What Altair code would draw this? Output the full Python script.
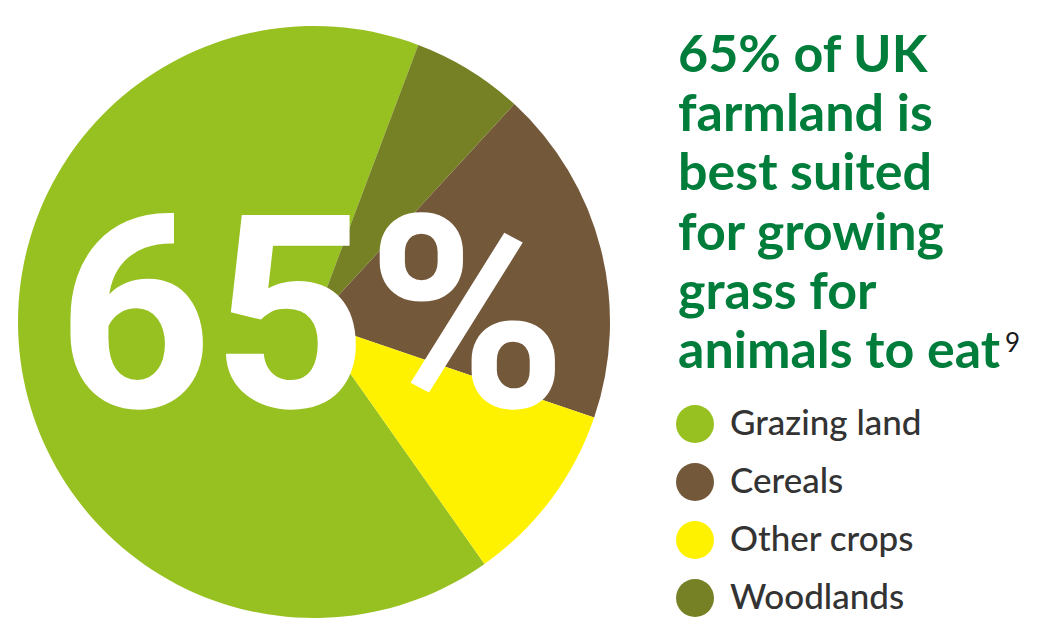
import altair as alt
import pandas as pd

categories = ["Grazing land", "Cereals", "Other crops", "Woodlands"]
shares = [65.5, 18.4, 10.0, 6.1]
pie_order = [3, 1, 2, 0]
colors = ["#97C021", "#74583A", "#FFF200", "#768024"]

title_lines = ["65% of UK", "farmland is", "best suited", "for growing", "grass for", "animals to eat"]
big_label = "65%"
footnote = "9"

df = pd.DataFrame({"category": categories, "share": shares, "order": pie_order})

W, H = 1035, 612
start = 0.36
TWO_PI = 6.283185307

pie = alt.Chart(df).mark_arc(radius=296, strokeWidth=0).encode(
    theta=alt.Theta("share:Q", stack=True, scale=alt.Scale(range=[start, start + TWO_PI])),
    color=alt.Color(
        "category:N",
        scale=alt.Scale(domain=categories, range=colors),
        sort=categories,
        legend=alt.Legend(
            title=None,
            orient="none",
            legendX=668,
            legendY=397,
            padding=0,
            symbolType="circle",
            symbolSize=1444,
            symbolStrokeWidth=0,
            symbolOpacity=1,
            labelFont="Lato",
            labelFontSize=35,
            labelFontWeight=500,
            labelColor="#333333",
            labelOffset=16,
            rowPadding=20,
            labelLimit=400,
        ),
    ),
    order=alt.Order("order:Q"),
    x=alt.value(306),
    y=alt.value(314),
)

big = alt.Chart(pd.DataFrame({"t": [big_label]})).mark_text(
    font="Roboto", fontWeight="bold", fontSize=270, color="white",
    align="center", baseline="alphabetic",
).encode(text="t:N", x=alt.value(304), y=alt.value(399))

title = alt.Chart(pd.DataFrame({"t": ["\n".join(title_lines)]})).mark_text(
    font="Lato", fontWeight="bold", fontSize=52, color="#007D3A",
    align="left", baseline="alphabetic", lineBreak="\n", lineHeight=59.2,
).encode(text="t:N", x=alt.value(670), y=alt.value(64))

foot = alt.Chart(pd.DataFrame({"t": [footnote]})).mark_text(
    font="Lato", fontSize=26, color="#1a1a1a", align="left", baseline="alphabetic",
).encode(text="t:N", x=alt.value(997), y=alt.value(344))

chart = alt.layer(pie, big, title, foot).properties(
    width=W, height=H, padding=0, background="white",
    autosize=alt.AutoSizeParams(type="none"),
).configure_view(strokeWidth=0, stroke="transparent")

chart.save("out.html", embed_options={"renderer": "svg", "actions": False})
